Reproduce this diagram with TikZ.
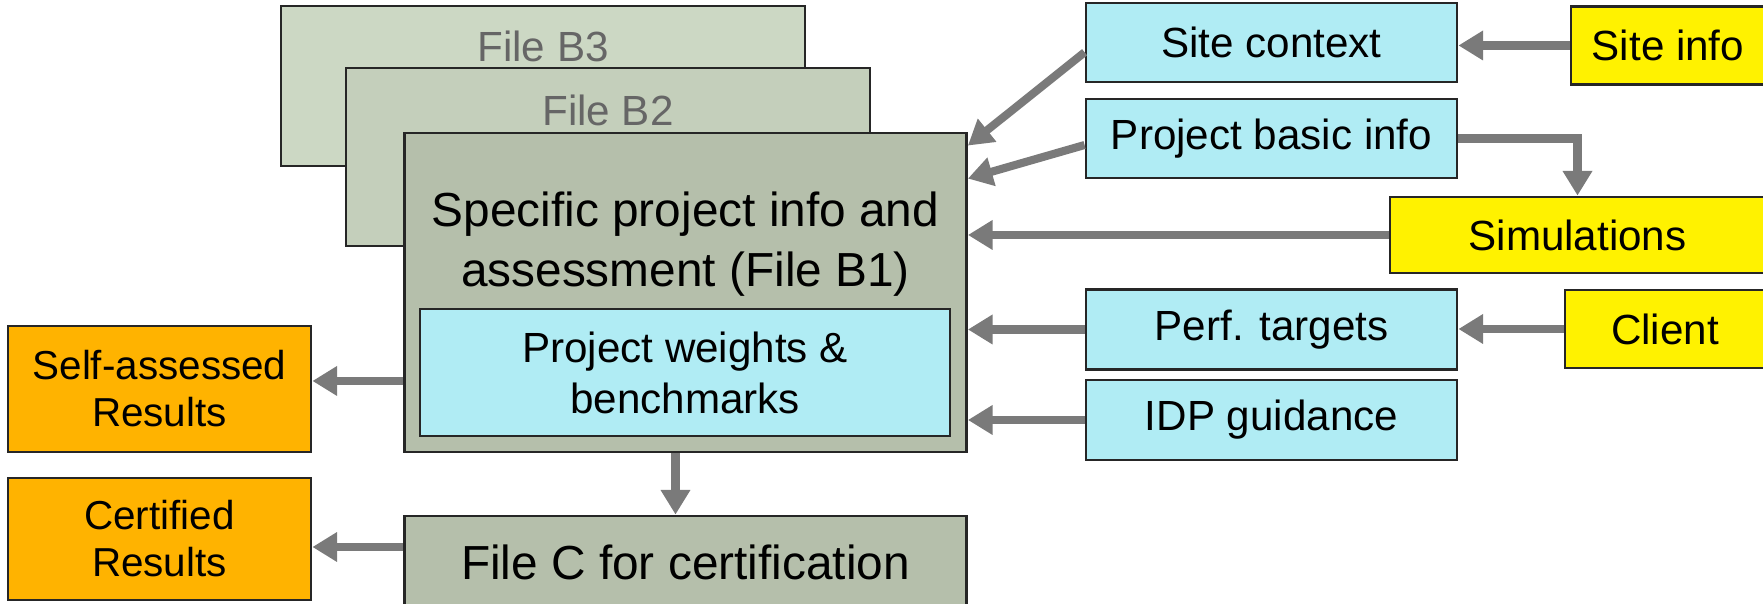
\documentclass[tikz,border=0pt]{standalone}
\usepackage{fontspec}
\setmainfont{Liberation Sans}
\usetikzlibrary{arrows.meta}

\definecolor{sagelight}{HTML}{CCD8C4}
\definecolor{sagemid}{HTML}{C4CFBB}
\definecolor{sagedark}{HTML}{B5BFAB}
\definecolor{infoblue}{HTML}{B0ECF4}
\definecolor{resultorange}{HTML}{FFB300}
\definecolor{arrowgrey}{HTML}{7A7A7A}

\tikzstyle{box}=[draw=black!85,line width=0.8pt,rectangle,inner sep=0pt,align=center,font=\fontsize{12}{14.5}\selectfont]
\tikzstyle{filebox}=[box,minimum width=5.24cm]
\tikzstyle{bigtext}=[align=center,font=\fontsize{13.6}{17}\selectfont]
\tikzstyle{fadedtext}=[text=black!60,font=\fontsize{12}{14.5}\selectfont]
\tikzstyle{infobox}=[box,fill=infoblue,minimum width=3.71cm,minimum height=0.79cm]
\tikzstyle{inputbox}=[box,fill=yellow,minimum height=0.78cm]
\tikzstyle{resultbox}=[box,fill=resultorange,minimum width=3.03cm,font=\fontsize{11.5}{13.4}\selectfont]
\tikzstyle{flow}=[draw=arrowgrey,line width=2.3pt,-{Triangle[length=7pt,width=8pt]}]

\begin{document}
\begin{tikzpicture}
	\useasboundingbox (0,0) rectangle (17.63,6.04);
	\clip (0,0) rectangle (17.63,6.04);
	
	\node[filebox,fill=sagelight,minimum height=1.6cm] (b3) at (5.43,5.18) {};
	\node[fadedtext] (b3title) at (5.43,5.58) {File B3};
	\node[filebox,fill=sagemid,minimum height=1.78cm] (b2) at (6.08,4.47) {};
	\node[fadedtext] (b2title) at (6.08,4.94) {File B2};
	
	\node[box,fill=sagedark,minimum width=5.62cm,minimum height=3.19cm] (b1) at (6.855,3.115) {};
	\node[bigtext] (b1title) at (6.855,3.6) {Specific project info and\\assessment (File B1)};
	\node[box,fill=infoblue,minimum width=5.3cm,minimum height=1.27cm] (weights) at (6.85,2.315) {Project weights \&\\benchmarks};
	\node[box,bigtext,fill=sagedark,minimum width=5.62cm,minimum height=0.92cm] (filec) at (6.855,0.42) {File C for certification};
	
	\node[resultbox,minimum height=1.26cm] (selfres) at (1.595,2.15) {Self-assessed\\Results};
	\node[resultbox,minimum height=1.22cm] (certres) at (1.595,0.65) {Certified\\Results};
	
	\node[infobox] (sitectx) at (12.715,5.615) {Site context};
	\node[infobox] (basicinfo) at (12.715,4.655) {Project basic info};
	\node[infobox,minimum height=0.8cm] (perf) at (12.715,2.745) {Perf. targets};
	\node[infobox,minimum height=0.8cm] (idp) at (12.715,1.84) {IDP guidance};
	
	\node[inputbox,minimum width=1.94cm] (siteinfo) at (16.68,5.585) {Site info};
	\node[inputbox,minimum width=3.75cm,minimum height=0.76cm] (simulations) at (15.775,3.69) {Simulations};
	\node[inputbox,minimum width=2cm] (client) at (16.65,2.75) {Client};
	
	\draw[flow] (siteinfo.west) -- (siteinfo.west -| sitectx.east);
	\draw[flow] (client.west) -- (client.west -| perf.east);
	\draw[flow] (basicinfo.east) -| (simulations.north);
	
	\draw[flow] (sitectx.183) -- ([yshift=-0.14cm]b1.north east);
	\draw[flow] (basicinfo.182) -- ([yshift=-0.47cm]b1.north east);
	\draw[flow] (simulations.west) -- (simulations.west -| b1.east);
	\draw[flow] (perf.west) -- (perf.west -| b1.east);
	\draw[flow] (idp.west) -- (idp.west -| b1.east);
	
	\draw[flow] (b1.west |- selfres.3) -- (selfres.3);
	\draw[flow] ([xshift=-0.1cm]b1.south) -- ([xshift=-0.1cm]filec.north);
	\draw[flow] (filec.west |- certres.-3) -- (certres.-3);
\end{tikzpicture}
\end{document}
